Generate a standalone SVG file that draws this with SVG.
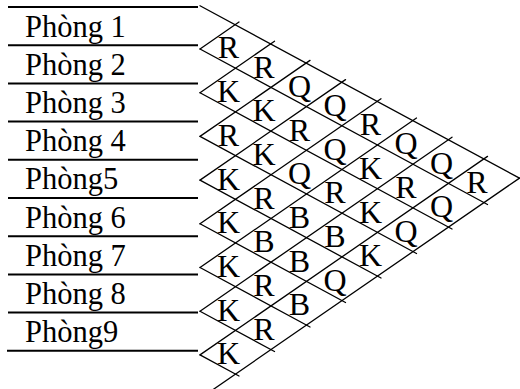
<svg xmlns="http://www.w3.org/2000/svg" width="520" height="389" viewBox="0 0 520 389">
<style>
.room{font-family:"Liberation Serif","Times New Roman",serif;font-size:30.5px;fill:#000}
.cell{font-family:"Liberation Serif","Times New Roman",serif;font-size:32px;fill:#000;text-anchor:middle}
.sep{stroke:#000;stroke-width:2;fill:none}
.grid{stroke:#000;stroke-width:1.3;fill:none;stroke-linecap:round}
</style>
<rect width="520" height="389" fill="#fff"/>
<g id="separators" class="sep">
<line x1="8" y1="7" x2="198" y2="7"/>
<line x1="8" y1="45.2" x2="198" y2="45.2"/>
<line x1="8" y1="83.4" x2="198" y2="83.4"/>
<line x1="8" y1="121.6" x2="198" y2="121.6"/>
<line x1="8" y1="159.8" x2="198" y2="159.8"/>
<line x1="8" y1="198" x2="198" y2="198"/>
<line x1="8" y1="236.2" x2="198" y2="236.2"/>
<line x1="8" y1="274.4" x2="198" y2="274.4"/>
<line x1="8" y1="312.6" x2="198" y2="312.6"/>
<line x1="7" y1="350.8" x2="198" y2="350.8"/>
</g>
<g id="rooms">
<g id="room1"><text class="room" x="25" y="36.5">Phòng 1</text></g>
<g id="room2"><text class="room" x="25" y="74.7">Phòng 2</text></g>
<g id="room3"><text class="room" x="25" y="112.9">Phòng 3</text></g>
<g id="room4"><text class="room" x="25" y="151.1">Phòng 4</text></g>
<g id="room5"><text class="room" x="25" y="189.3">Phòng5</text></g>
<g id="room6"><text class="room" x="25" y="227.5">Phòng 6</text></g>
<g id="room7"><text class="room" x="25" y="265.7">Phòng 7</text></g>
<g id="room8"><text class="room" x="25" y="303.9">Phòng 8</text></g>
<g id="room9"><text class="room" x="25" y="342.1">Phòng9</text></g>
</g>
<g id="connectors" class="grid">
<line x1="200" y1="5.8" x2="519.5" y2="178.1"/>
<line x1="200" y1="398.6" x2="519.5" y2="178.1"/>
<line x1="200" y1="49" x2="487.5" y2="204.5"/>
<line x1="200" y1="92.7" x2="452" y2="229"/>
<line x1="200" y1="136.4" x2="416.5" y2="253.5"/>
<line x1="200" y1="180.1" x2="381" y2="278"/>
<line x1="200" y1="223.8" x2="345.5" y2="302.5"/>
<line x1="200" y1="267.5" x2="310" y2="327"/>
<line x1="200" y1="311.2" x2="274.5" y2="351.5"/>
<line x1="200" y1="354.9" x2="239" y2="376"/>
<line x1="200" y1="49" x2="239" y2="22"/>
<line x1="200" y1="92.7" x2="274.5" y2="41.2"/>
<line x1="200" y1="136.4" x2="310" y2="60.4"/>
<line x1="200" y1="180.1" x2="345.5" y2="79.6"/>
<line x1="200" y1="223.8" x2="381" y2="98.8"/>
<line x1="200" y1="267.5" x2="416.5" y2="118"/>
<line x1="200" y1="311.2" x2="452" y2="137.2"/>
<line x1="200" y1="354.9" x2="487.5" y2="156.4"/>
</g>
<g id="cells">
<g id="c1-2"><text class="cell" x="228.5" y="58.4">R</text></g>
<g id="c2-3"><text class="cell" x="228.5" y="102.1">K</text></g>
<g id="c3-4"><text class="cell" x="228.5" y="145.8">R</text></g>
<g id="c4-5"><text class="cell" x="228.5" y="189.5">K</text></g>
<g id="c5-6"><text class="cell" x="228.5" y="233.2">K</text></g>
<g id="c6-7"><text class="cell" x="228.5" y="276.9">K</text></g>
<g id="c7-8"><text class="cell" x="228.5" y="320.6">K</text></g>
<g id="c8-9"><text class="cell" x="228.5" y="364.3">K</text></g>
<g id="c1-3"><text class="cell" x="264" y="77.6">R</text></g>
<g id="c2-4"><text class="cell" x="264" y="121.3">K</text></g>
<g id="c3-5"><text class="cell" x="264" y="165">K</text></g>
<g id="c4-6"><text class="cell" x="264" y="208.7">R</text></g>
<g id="c5-7"><text class="cell" x="264" y="252.4">B</text></g>
<g id="c6-8"><text class="cell" x="264" y="296.1">R</text></g>
<g id="c7-9"><text class="cell" x="264" y="339.8">R</text></g>
<g id="c1-4"><text class="cell" x="299.5" y="96.8">Q</text></g>
<g id="c2-5"><text class="cell" x="299.5" y="140.5">R</text></g>
<g id="c3-6"><text class="cell" x="299.5" y="184.2">Q</text></g>
<g id="c4-7"><text class="cell" x="299.5" y="227.9">B</text></g>
<g id="c5-8"><text class="cell" x="299.5" y="271.6">B</text></g>
<g id="c6-9"><text class="cell" x="299.5" y="315.3">B</text></g>
<g id="c1-5"><text class="cell" x="335" y="116">Q</text></g>
<g id="c2-6"><text class="cell" x="335" y="159.7">Q</text></g>
<g id="c3-7"><text class="cell" x="335" y="203.4">R</text></g>
<g id="c4-8"><text class="cell" x="335" y="247.1">B</text></g>
<g id="c5-9"><text class="cell" x="335" y="290.8">Q</text></g>
<g id="c1-6"><text class="cell" x="370.5" y="135.2">R</text></g>
<g id="c2-7"><text class="cell" x="370.5" y="178.9">K</text></g>
<g id="c3-8"><text class="cell" x="370.5" y="222.6">K</text></g>
<g id="c4-9"><text class="cell" x="370.5" y="266.3">K</text></g>
<g id="c1-7"><text class="cell" x="406" y="154.4">Q</text></g>
<g id="c2-8"><text class="cell" x="406" y="198.1">R</text></g>
<g id="c3-9"><text class="cell" x="406" y="241.8">Q</text></g>
<g id="c1-8"><text class="cell" x="441.5" y="173.6">Q</text></g>
<g id="c2-9"><text class="cell" x="441.5" y="217.3">Q</text></g>
<g id="c1-9"><text class="cell" x="477" y="192.8">R</text></g>
</g>
</svg>
